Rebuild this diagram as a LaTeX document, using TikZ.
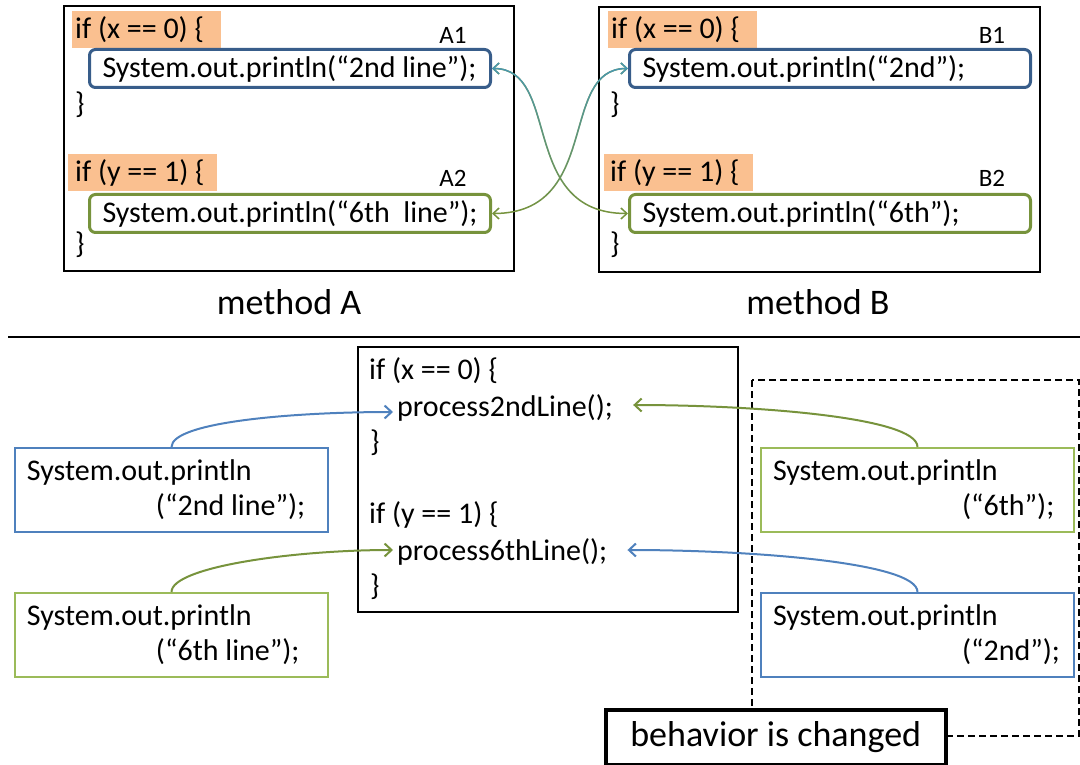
\documentclass[tikz,border=0pt]{standalone}
\usepackage{fontspec}
\setmainfont{Carlito}
\usetikzlibrary{arrows.meta,fadings}

\definecolor{hilite}{HTML}{FAC090}
\definecolor{darkblue}{HTML}{385D8A}
\definecolor{darkgreen}{HTML}{77933C}
\definecolor{tealline}{HTML}{4A98B0}
\definecolor{lightblue}{HTML}{4F81BD}
\definecolor{lightgreen}{HTML}{9BBB59}

\begin{document}
\begin{tikzpicture}[x=1pt,y=-1pt,
  >={Straight Barb[length=7pt,width=13pt]},
  code/.style={font=\fontsize{30}{35}\selectfont, inner sep=0pt, anchor=west},
  cond/.style={code, anchor=north west, fill=hilite, minimum width=149pt, minimum height=37pt, text width=143pt, inner xsep=3pt, align=flush left},
  stmt/.style={code, anchor=north west, rounded corners=6pt, line width=3pt, minimum width=401pt, minimum height=38pt, text width=375pt, inner xsep=13pt, align=flush left},
  tag/.style={font=\fontsize{25}{30}\selectfont},
  big/.style={font=\fontsize{36}{42}\selectfont},
  method/.style={draw, line width=2pt, anchor=north west, minimum height=265pt},
  call/.style={code, anchor=north west, line width=2pt, minimum width=313pt, minimum height=84pt, text width=289pt, inner xsep=12pt, align=flush left},
  swap/.style={{Straight Barb[length=6pt,width=11pt]}-{Straight Barb[length=6pt,width=11pt]}, line width=1.5pt},
  move/.style={->, line width=2pt}]

\useasboundingbox (0,0) rectangle (1080,765);

% method A and method B
\node[method, minimum width=450pt] (methA) at (63,5) {};
\node[method, minimum width=441pt] (methB) at (598,6) {};

\node[cond] (condAx) at (72,11) {if (x == 0) \{};
\node[cond] (condAy) at (68,154) {\hspace*{4pt}if (y == 1) \{};
\node[cond] (condBx) at (608,11) {if (x == 0) \{};
\node[cond] (condBy) at (604,154) {\hspace*{3pt}if (y == 1) \{};

\node[stmt, draw=darkblue] (Aone) at (88,48) {\mbox{System.out.println(“2nd line”);}};
\node[stmt, draw=darkgreen] (Atwo) at (88,193) {\mbox{System.out.println(“6th\ \ line”);}};
\node[stmt, draw=darkblue] (Bone) at (628,48) {System.out.println(“2nd”);};
\node[stmt, draw=darkgreen] (Btwo) at (628,193) {System.out.println(“6th”);};

\node[tag] (labA1) at (453,35) {A1};
\node[tag] (labA2) at (453,178) {A2};
\node[tag] (labB1) at (992,35) {B1};
\node[tag] (labB2) at (992,178) {B2};

\node[code] (closeAx) at (75,105) {\}};
\node[code] (closeAy) at (75,245) {\}};
\node[code] (closeBx) at (610,105) {\}};
\node[code] (closeBy) at (610,245) {\}};

\node[big] (nameA) at (289,302) {method A};
\node[big] (nameB) at (818,302) {method B};

\begin{scope}[swap]
\draw[darkgreen] (Aone.east) .. controls +(70,0) and +(-110,0) .. (Btwo.west);
\draw[tealline, path fading=south] (Aone.east) .. controls +(70,0) and +(-110,0) .. (Btwo.west);
\draw[darkgreen] (Atwo.east) .. controls +(110,0) and +(-70,0) .. (Bone.west);
\draw[tealline, path fading=south] (Atwo.east) .. controls +(110,0) and +(-70,0) .. (Bone.west);
\end{scope}

\draw[line width=2pt] (8,337) -- (1080,337);

% merged method
\node[draw, line width=2pt, anchor=north west, minimum width=380pt, minimum height=265pt] (merged) at (357,346) {};
\node[code] (ifx) at (369,371) {if (x == 0) \{};
\node[code] (procTwo) at (397,408) {process2ndLine();};
\node[code] (closex) at (370,443) {\}};
\node[code] (ify) at (369,515) {if (y == 1) \{};
\node[code] (procSix) at (397,552) {process6thLine();};
\node[code] (closey) at (370,587) {\}};

\draw[dashed, line width=2pt, dash pattern=on 7pt off 4pt] (752,380) rectangle (1079,736);

\node[call, draw=lightblue] (callTwo) at (14,447) {System.out.println\\\hspace*{129pt}(“2nd line”);};
\node[call, draw=lightgreen] (callSix) at (14,592) {System.out.println\\\hspace*{129pt}(“6th line”);};
\node[call, draw=lightgreen] (callSixB) at (760,447) {System.out.println\\\hspace*{189pt}(“6th”);};
\node[call, draw=lightblue] (callTwoB) at (760,592) {System.out.println\\\hspace*{189pt}(“2nd”);};

\draw[move, lightblue] (callTwo.north) .. controls +(0,-25) and +(-100,0) .. ([xshift=-4pt,yshift=-4pt]procTwo.west);
\draw[move, darkgreen] (callSix.north) .. controls +(0,-25) and +(-100,0) .. ([xshift=-4pt,yshift=2pt]procSix.west);
\draw[move, darkgreen] (callSixB.north) .. controls +(0,-30) and +(120,0) .. ([xshift=20pt,yshift=3pt]procTwo.east);
\draw[move, lightblue] (callTwoB.north) .. controls +(0,-30) and +(120,0) .. ([xshift=20pt,yshift=2pt]procSix.east);

\node[draw, fill=white, line width=3.5pt, big, anchor=north west, minimum width=340pt, minimum height=55pt] (changed) at (604,708) {behavior is changed};

\end{tikzpicture}
\end{document}
